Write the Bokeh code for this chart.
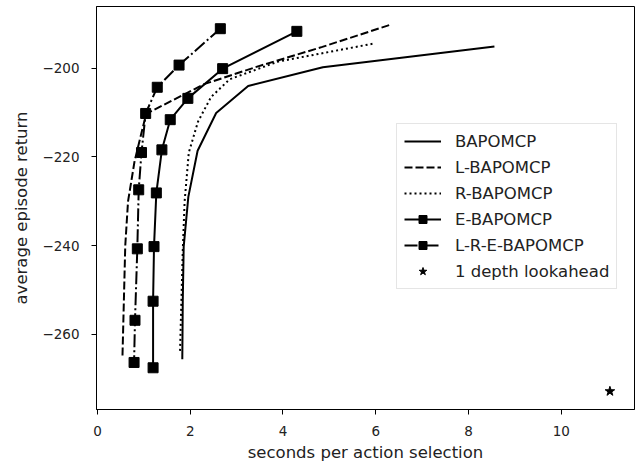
from bokeh.plotting import figure
from bokeh.models import Range1d, FixedTicker, Legend, LegendItem, CustomJSTickFormatter
from bokeh.embed import file_html
from bokeh.resources import INLINE

# ---- data ----
bapomcp_x = [8.56, 4.86, 3.25, 2.56, 2.16, 1.96, 1.86, 1.84, 1.83]
bapomcp_y = [-195.1, -199.8, -204.0, -210.1, -218.6, -229.0, -240.2, -252.5, -265.6]

l_bapomcp_x = [6.29, 4.85, 3.40, 2.30, 1.05, 0.80, 0.66, 0.60, 0.54]
l_bapomcp_y = [-190.3, -195.2, -199.8, -203.6, -210.3, -221.0, -230.0, -240.0, -264.9]

r_bapomcp_x = [5.93, 3.90, 2.85, 2.45, 2.17, 1.97, 1.88, 1.84, 1.78]
r_bapomcp_y = [-194.5, -198.5, -202.5, -206.5, -212.0, -219.0, -230.0, -241.0, -264.2]

e_bapomcp_x = [4.30, 2.70, 1.95, 1.57, 1.39, 1.27, 1.22, 1.20, 1.20]
e_bapomcp_y = [-191.7, -200.1, -206.8, -211.6, -218.4, -228.1, -240.2, -252.5, -267.5]

lre_bapomcp_x = [2.65, 1.76, 1.29, 1.04, 0.95, 0.89, 0.86, 0.81, 0.79]
lre_bapomcp_y = [-191.1, -199.3, -204.3, -210.2, -219.0, -227.4, -240.7, -256.8, -266.3]

lookahead_x = [11.05]
lookahead_y = [-272.8]

x_ticks = [0, 2, 4, 6, 8, 10]
y_ticks = [-260, -240, -220, -200]

FONT = "DejaVu Sans"

p = figure(width=637, height=466, output_backend="svg", toolbar_location=None,
           x_range=Range1d(-0.02, 11.58), y_range=Range1d(-276.9, -186.1),
           min_border_left=96, min_border_right=3, min_border_top=6, min_border_bottom=57)
p.grid.visible = False
p.outline_line_color = "black"
p.outline_line_width = 1
p.background_fill_color = "white"
p.border_fill_color = "white"

lw = 2
ms = 10
r1 = p.line(bapomcp_x, bapomcp_y, line_color="black", line_width=lw)
r2 = p.line(l_bapomcp_x, l_bapomcp_y, line_color="black", line_width=lw, line_dash="8 3")
r3 = p.line(r_bapomcp_x, r_bapomcp_y, line_color="black", line_width=lw, line_dash="2 3")
r4a = p.line(e_bapomcp_x, e_bapomcp_y, line_color="black", line_width=lw)
r4b = p.scatter(e_bapomcp_x, e_bapomcp_y, marker="square", size=ms, color="black")
r5a = p.line(lre_bapomcp_x, lre_bapomcp_y, line_color="black", line_width=lw, line_dash="13 3 2 3")
r5b = p.scatter(lre_bapomcp_x, lre_bapomcp_y, marker="square", size=ms, color="black")
r6 = p.scatter(lookahead_x, lookahead_y, marker="star", size=10, color="black")

legend = Legend(items=[
    LegendItem(label="BAPOMCP", renderers=[r1]),
    LegendItem(label="L-BAPOMCP", renderers=[r2]),
    LegendItem(label="R-BAPOMCP", renderers=[r3]),
    LegendItem(label="E-BAPOMCP", renderers=[r4a, r4b]),
    LegendItem(label="L-R-E-BAPOMCP", renderers=[r5a, r5b]),
    LegendItem(label="1 depth lookahead", renderers=[r6]),
], location=(300, 120))
legend.label_text_font = FONT
legend.label_text_font_size = "16.5px"
legend.label_text_color = "#222222"
legend.glyph_width = 37
legend.glyph_height = 20
legend.label_height = 20
legend.spacing = 6
legend.padding = 7
legend.margin = 0
legend.label_standoff = 14
legend.border_line_color = "#cccccc"
legend.border_line_width = 1
legend.background_fill_alpha = 0.8
p.add_layout(legend)

fmt = CustomJSTickFormatter(code="return String(tick).replace('-', '\u2212');")

for ax, ticks in ((p.xaxis, x_ticks), (p.yaxis, y_ticks)):
    ax.ticker = FixedTicker(ticks=ticks)
    ax.formatter = fmt
    ax.minor_tick_line_color = None
    ax.major_tick_in = 0
    ax.major_tick_out = 5
    ax.major_tick_line_color = "black"
    ax.axis_line_color = "black"
    ax.major_label_text_font = FONT
    ax.major_label_text_font_size = "13.5px"
    ax.major_label_text_color = "#222222"
    ax.axis_label_text_font = FONT
    ax.axis_label_text_font_size = "16.5px"
    ax.axis_label_text_font_style = "normal"
    ax.axis_label_text_color = "#222222"

p.xaxis.major_label_standoff = 11
p.yaxis.major_label_standoff = 12
p.xaxis.axis_label = "seconds per action selection"
p.yaxis.axis_label = "average episode return"
p.xaxis.axis_label_standoff = 4
p.yaxis.axis_label_standoff = 8

open("out.html", "w").write(file_html(p, INLINE))
